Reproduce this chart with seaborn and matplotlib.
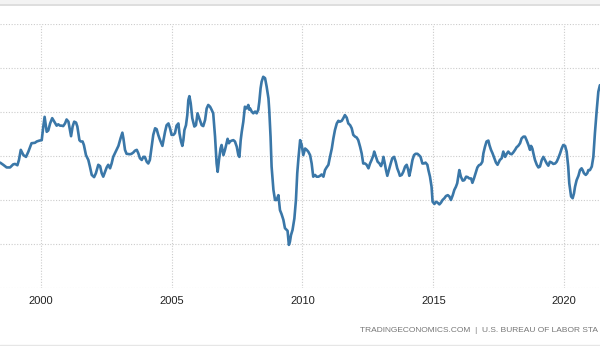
import matplotlib
matplotlib.use("Agg")
import matplotlib.pyplot as plt
import seaborn as sns
import pandas as pd
from matplotlib.lines import Line2D
from matplotlib.patches import Rectangle

# Decimal-year positions of traced vertices and values (arbitrary units; the y labels are cropped in the reference)
years = [
    1998.45, 1998.57, 1998.70, 1998.83, 1998.95, 1999.02, 1999.11, 1999.17, 1999.24, 1999.34,
    1999.44, 1999.53, 1999.65, 1999.78, 1999.85, 1999.95, 2000.04, 2000.10, 2000.15, 2000.23,
    2000.29, 2000.36, 2000.44, 2000.52, 2000.61, 2000.67, 2000.74, 2000.80, 2000.86, 2000.93,
    2000.99, 2001.06, 2001.12, 2001.16, 2001.22, 2001.28, 2001.35, 2001.40, 2001.48, 2001.53,
    2001.60, 2001.65, 2001.73, 2001.82, 2001.88, 2001.95, 2002.04, 2002.11, 2002.20, 2002.27,
    2002.33, 2002.39, 2002.46, 2002.52, 2002.58, 2002.65, 2002.71, 2002.77, 2002.90, 2002.97,
    2003.05, 2003.12, 2003.16, 2003.22, 2003.28, 2003.41, 2003.47, 2003.54, 2003.60, 2003.67,
    2003.73, 2003.79, 2003.86, 2003.92, 2003.98, 2004.05, 2004.11, 2004.17, 2004.24, 2004.30,
    2004.37, 2004.43, 2004.49, 2004.56, 2004.65, 2004.68, 2004.75, 2004.81, 2004.88, 2004.94,
    2005.00, 2005.07, 2005.13, 2005.19, 2005.26, 2005.30, 2005.36, 2005.41, 2005.45, 2005.49,
    2005.55, 2005.60, 2005.64, 2005.68, 2005.73, 2005.79, 2005.87, 2005.93, 2005.99, 2006.08,
    2006.15, 2006.21, 2006.28, 2006.34, 2006.40, 2006.47, 2006.53, 2006.59, 2006.66, 2006.72,
    2006.76, 2006.81, 2006.87, 2006.91, 2006.98, 2007.04, 2007.10, 2007.14, 2007.19, 2007.23,
    2007.30, 2007.36, 2007.42, 2007.49, 2007.55, 2007.59, 2007.64, 2007.68, 2007.74, 2007.80,
    2007.87, 2007.93, 2007.97, 2008.00, 2008.06, 2008.12, 2008.19, 2008.25, 2008.31, 2008.35,
    2008.40, 2008.44, 2008.50, 2008.57, 2008.63, 2008.70, 2008.73, 2008.78, 2008.82, 2008.89,
    2008.95, 2009.01, 2009.08, 2009.14, 2009.20, 2009.27, 2009.33, 2009.40, 2009.43, 2009.48,
    2009.52, 2009.56, 2009.62, 2009.69, 2009.75, 2009.80, 2009.85, 2009.91,
    2009.97, 2010.03, 2010.10, 2010.16, 2010.22, 2010.29, 2010.35, 2010.41, 2010.48, 2010.54,
    2010.61, 2010.67, 2010.73, 2010.80, 2010.86, 2010.92, 2010.99, 2011.05, 2011.12, 2011.18,
    2011.24, 2011.31, 2011.37, 2011.43, 2011.50, 2011.56, 2011.62, 2011.69, 2011.75, 2011.82,
    2011.88, 2011.94, 2012.01, 2012.07, 2012.13, 2012.20, 2012.26, 2012.32, 2012.39, 2012.45,
    2012.52, 2012.58, 2012.64, 2012.71, 2012.74, 2012.81, 2012.87, 2012.94, 2013.00, 2013.06,
    2013.09, 2013.13, 2013.19, 2013.24, 2013.30, 2013.37, 2013.43, 2013.50, 2013.56, 2013.62,
    2013.69, 2013.72,
    2013.79, 2013.85, 2013.92, 2013.98, 2014.04, 2014.08, 2014.13, 2014.20, 2014.26, 2014.32,
    2014.39, 2014.45, 2014.51, 2014.58, 2014.64, 2014.70, 2014.77, 2014.81, 2014.87, 2014.93,
    2014.97, 2015.04, 2015.10, 2015.16, 2015.23, 2015.29, 2015.35, 2015.42, 2015.48, 2015.55,
    2015.61, 2015.67, 2015.74, 2015.80, 2015.86, 2015.91, 2015.99, 2016.05, 2016.12, 2016.18,
    2016.25, 2016.31, 2016.37, 2016.44, 2016.49, 2016.55, 2016.63, 2016.68, 2016.74, 2016.81,
    2016.87, 2016.91, 2016.97, 2017.03, 2017.10, 2017.14, 2017.20, 2017.26, 2017.33, 2017.39,
    2017.45, 2017.54,
    2017.61, 2017.67, 2017.74, 2017.80, 2017.86, 2017.93, 2017.99, 2018.05, 2018.12, 2018.18,
    2018.24, 2018.31, 2018.37, 2018.44, 2018.50, 2018.56, 2018.63, 2018.69, 2018.73, 2018.78,
    2018.82, 2018.88, 2018.95, 2019.01, 2019.07, 2019.14, 2019.20, 2019.26, 2019.33, 2019.39,
    2019.45, 2019.52, 2019.58, 2019.65, 2019.71, 2019.77, 2019.84, 2019.90, 2019.96, 2020.03,
    2020.09, 2020.15, 2020.19, 2020.26, 2020.32, 2020.37, 2020.41, 2020.47, 2020.54, 2020.60,
    2020.66, 2020.70, 2020.75, 2020.82, 2020.88, 2020.92, 2020.98, 2021.05, 2021.11, 2021.17,
    2021.24, 2021.30, 2021.36,
]

values = [
    2.85, 2.80, 2.74, 2.74, 2.81, 2.82, 2.79, 2.91, 3.14, 3.02,
    2.98, 3.10, 3.29, 3.30, 3.33, 3.35, 3.36, 3.67, 3.89, 3.55,
    3.58, 3.74, 3.86, 3.78, 3.69, 3.72, 3.69, 3.69, 3.68, 3.74,
    3.83, 3.78, 3.59, 3.45, 3.67, 3.78, 3.76, 3.67, 3.36, 3.33,
    3.33, 3.25, 3.02, 2.91, 2.76, 2.57, 2.52, 2.61, 2.80, 2.77,
    2.61, 2.53, 2.64, 2.74, 2.80, 2.72, 2.83, 2.98, 3.14, 3.23,
    3.40, 3.53, 3.40, 3.14, 3.05, 3.04, 3.05, 3.08, 3.12, 3.14,
    3.06, 2.95, 2.91, 2.98, 2.98, 2.87, 2.83, 2.91, 3.21, 3.48,
    3.63, 3.61, 3.48, 3.36, 3.23, 3.33, 3.55, 3.70, 3.74, 3.63,
    3.48, 3.48, 3.52, 3.69, 3.74, 3.52, 3.33, 3.23, 3.36, 3.59,
    3.70, 3.93, 4.27, 4.36, 4.20, 3.86, 3.67, 3.70, 3.97, 3.82,
    3.70, 3.68, 3.82, 4.08, 4.16, 4.12, 4.05, 3.97, 3.44, 2.83,
    2.64, 2.91, 3.17, 3.25, 3.02, 3.14, 3.29, 3.39, 3.29, 3.33,
    3.35, 3.36, 3.33, 3.21, 3.02, 2.98, 3.36, 3.55, 3.78, 4.12,
    4.08, 4.16, 4.05, 4.08, 4.01, 3.97, 4.01, 3.97, 4.05, 4.23,
    4.54, 4.69, 4.80, 4.77, 4.58, 4.31, 4.05, 3.44, 2.76, 2.23,
    2.00, 2.00, 2.11, 1.77, 1.68, 1.55, 1.36, 1.32, 1.30, 0.98,
    1.05, 1.20, 1.32, 1.58, 2.00, 2.61, 2.98, 3.36,
    3.25, 3.02, 3.17, 3.14, 3.10, 3.02, 2.83, 2.53, 2.57, 2.53,
    2.53, 2.55, 2.58, 2.53, 2.68, 2.74, 2.80, 2.98, 3.17, 3.40,
    3.59, 3.74, 3.80, 3.78, 3.80, 3.86, 3.93, 3.87, 3.74, 3.70,
    3.63, 3.48, 3.44, 3.42, 3.36, 3.21, 3.06, 2.83, 2.83, 2.80,
    2.72, 2.83, 2.91, 3.02, 3.10, 2.98, 2.87, 2.83, 2.77, 2.87,
    2.98, 2.87, 2.68, 2.55, 2.68, 2.83, 2.95, 2.98, 2.87, 2.72,
    2.61, 2.55,
    2.57, 2.64, 2.76, 2.80, 2.68, 2.55, 2.68, 2.91, 3.02, 3.05,
    3.05, 3.02, 2.98, 2.83, 2.83, 2.85, 2.80, 2.68, 2.53, 2.30,
    1.96, 1.91, 1.96, 1.94, 1.90, 1.94, 2.00, 2.04, 2.09, 2.11,
    2.08, 2.00, 2.11, 2.23, 2.30, 2.38, 2.68, 2.53, 2.44, 2.45,
    2.53, 2.52, 2.49, 2.49, 2.39, 2.49, 2.64, 2.74, 2.79, 2.81,
    2.87, 3.06, 3.21, 3.33, 3.35, 3.25, 3.14, 3.06, 2.95, 2.85,
    2.80, 2.91,
    2.95, 3.10, 2.98, 3.05, 3.10, 3.05, 3.04, 3.08, 3.14, 3.20,
    3.23, 3.29, 3.40, 3.44, 3.44, 3.36, 3.25, 3.14, 3.23, 3.17,
    3.06, 2.91, 2.80, 2.74, 2.76, 2.91, 2.98, 2.91, 2.83, 2.78,
    2.87, 2.85, 2.82, 2.83, 2.87, 2.95, 3.06, 3.17, 3.25, 3.23,
    3.10, 2.76, 2.38, 2.08, 2.04, 2.15, 2.30, 2.45, 2.55, 2.68,
    2.72, 2.68, 2.61, 2.57, 2.61, 2.68, 2.68, 2.76, 2.98, 3.52,
    4.05, 4.46, 4.61,
]

tick_years = [2000, 2005, 2010, 2015, 2020]
tick_labels = ["2000", "2005", "2010", "2015", "2020"]
grid_levels = [0, 1, 2, 3, 4, 5, 6]
# the reference screenshot is cropped, so only this part of the source line is visible
source_text = "TRADINGECONOMICS.COM  |  U.S. BUREAU OF LABOR STA"

df = pd.DataFrame({"year": years, "value": values})

sns.set_style("white")
plt.rcParams["font.family"] = ["Liberation Sans", "DejaVu Sans"]

fig = plt.figure(figsize=(6.0, 3.46), dpi=100)
fig.patch.set_facecolor("white")

# top gray band and border lines of the screenshot
fig.add_artist(Rectangle((0, 1 - 4 / 346), 1, 4 / 346, transform=fig.transFigure,
                         facecolor="#f3f3f3", edgecolor="none", zorder=0))
fig.add_artist(Line2D([0, 1], [1 - 4.5 / 346, 1 - 4.5 / 346], transform=fig.transFigure,
                      color="#d8d8d8", lw=1.2))
fig.add_artist(Line2D([0, 1], [1.0 / 346, 1.0 / 346], transform=fig.transFigure,
                      color="#e6e6e6", lw=1.0))

ax = fig.add_axes([0.0, (346 - 288) / 346, 1.0, (288 - 24) / 346])
sns.lineplot(data=df, x="year", y="value", ax=ax, color="#3a77a8", lw=1.9,
             estimator=None, sort=False, zorder=3)

ax.set_xlim(1998.446, 2021.364)
ax.set_ylim(0, 6)
ax.set_xticks(tick_years)
ax.set_xticklabels(tick_labels)
ax.set_yticks(grid_levels)
ax.set_yticklabels([])
ax.tick_params(axis="x", length=0, pad=5.5, labelsize=8, labelcolor="#222222")
ax.tick_params(axis="y", length=0)
ax.set_xlabel("")
ax.set_ylabel("")
for s in ax.spines.values():
    s.set_visible(False)
ax.grid(True, axis="both", color="#cccccc", linestyle=(0, (1, 1.5)), lw=0.8, zorder=0)
ax.set_axisbelow(True)

fig.text(598 / 600, 1 - 330 / 346, source_text, fontsize=6.0, color="#777777",
         ha="right", va="center")

fig.savefig("out.png", dpi=100)
